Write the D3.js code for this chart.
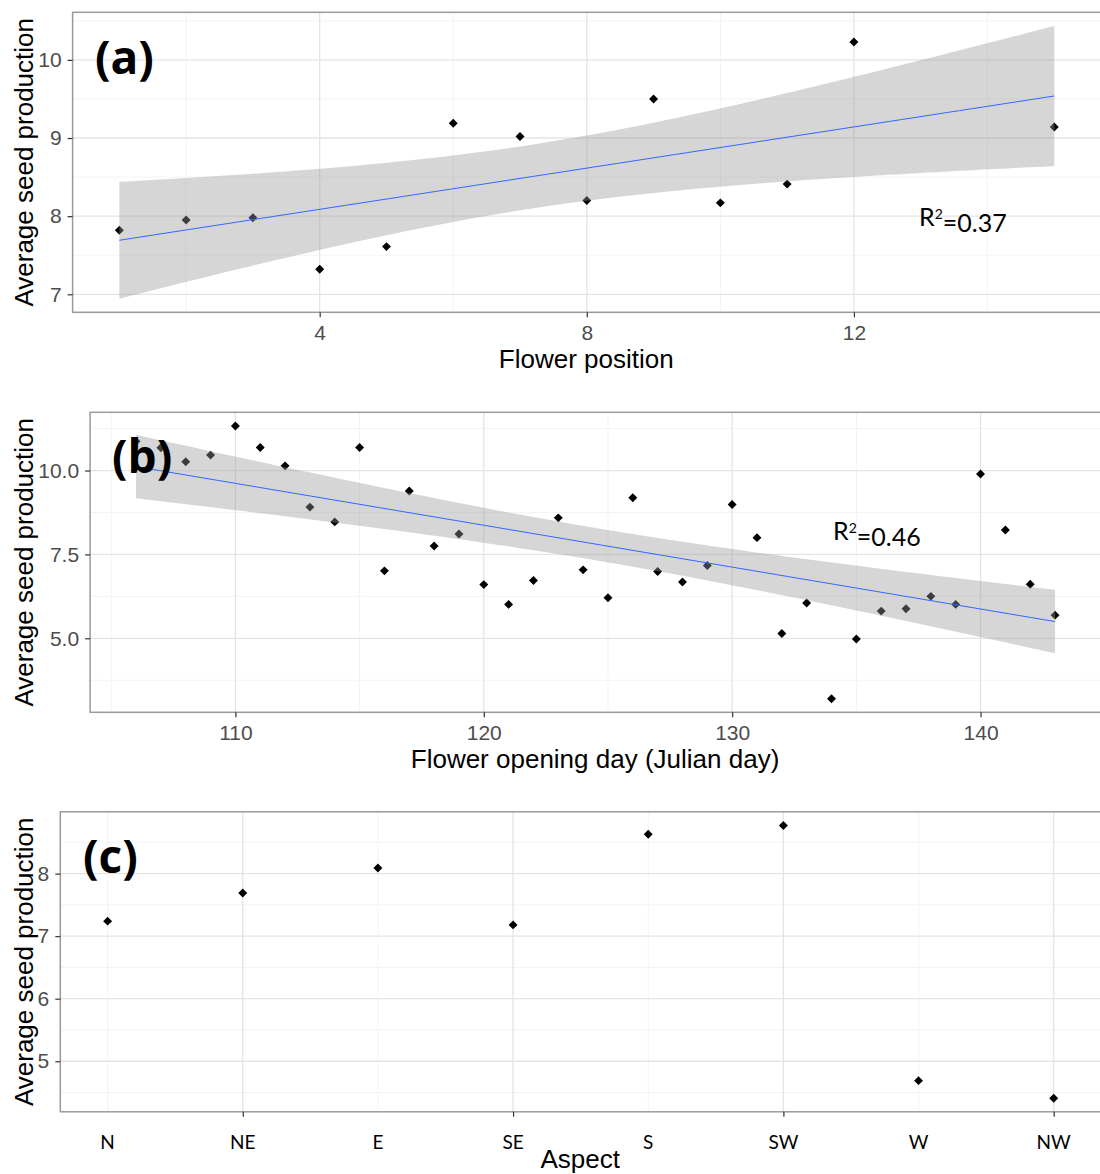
<!DOCTYPE html>
<html><head><meta charset="utf-8">
<script src="https://cdn.jsdelivr.net/npm/d3@7"></script>
<style>body{margin:0;background:#fff}svg{display:block}</style>
</head><body><svg id="chart" width="1100" height="1174"></svg>
<script>
// ---------- Panel (a): flower position ----------
const flowerPosition = [1, 2, 3, 4, 5, 6, 7, 8, 9, 10, 11, 12, 15];
const seedByPosition = [7.82, 7.95, 7.98, 7.32, 7.61, 9.19, 9.02, 8.20, 9.50, 8.17, 8.41, 10.23, 9.14];
const positionTicks = [4, 8, 12];
const seedTicksA = [7, 8, 9, 10];

// ---------- Panel (b): flower opening day ----------
const openingDay = [106, 107, 108, 109, 110, 111, 112, 113, 114, 115, 116, 117, 118, 119, 120, 121, 122, 123, 124,
                    125, 126, 127, 128, 129, 130, 131, 132, 133, 134, 135, 136, 137, 138, 139, 140, 141, 142, 143];
const seedByDay = [10.87, 10.68, 10.26, 10.46, 11.33, 10.69, 10.14, 8.91, 8.47, 10.69, 7.01, 9.39, 7.75, 8.11, 6.60,
                   6.01, 6.72, 8.59, 7.04, 6.21, 9.19, 6.99, 6.68, 7.17, 8.99, 8.00, 5.14, 6.05, 3.20, 4.98, 5.81,
                   5.88, 6.25, 6.01, 9.90, 8.23, 6.61, 5.69];
const dayTicks = [110, 120, 130, 140];
const seedTicksB = [5.0, 7.5, 10.0];

// ---------- Panel (c): aspect ----------
const aspects = ["N", "NE", "E", "SE", "S", "SW", "W", "NW"];
const aspectIndex = [1, 2, 3, 4, 5, 6, 7, 8];
const seedByAspect = [7.24, 7.69, 8.09, 7.18, 8.63, 8.77, 4.69, 4.41];
const aspectTicks = [2, 4, 6, 8];
const seedTicksC = [5, 6, 7, 8];

const panelTags = ["(a)", "(b)", "(c)"];
const r2Values = ["0.37", "0.46"];
const xTitles = ["Flower position", "Flower opening day (Julian day)", "Aspect"];
const yTitle = "Average seed production";

// ---------- helpers ----------
const svg = d3.select("#chart");
const W = 1100;
const AX = "'Liberation Sans', Arial, Helvetica, sans-serif";
const CAL = "Lato, 'Open Sans', sans-serif";
const TAG = "'Open Sans', Lato, sans-serif";

function tQuantile975(df) {
  const z = 1.959964, z3 = z ** 3, z5 = z ** 5, z7 = z ** 7, v = df;
  return z + (z3 + z) / (4 * v) + (5 * z5 + 16 * z3 + 3 * z) / (96 * v * v)
    + (3 * z7 + 19 * z5 + 17 * z3 - 15 * z) / (384 * v ** 3);
}

function linearFit(xs, ys) {
  const n = xs.length, mx = d3.mean(xs), my = d3.mean(ys);
  let sxx = 0, sxy = 0;
  xs.forEach((x, i) => { sxx += (x - mx) ** 2; sxy += (x - mx) * (ys[i] - my); });
  const b = sxy / sxx, a = my - b * mx;
  let sse = 0;
  xs.forEach((x, i) => { sse += (ys[i] - a - b * x) ** 2; });
  const s = Math.sqrt(sse / (n - 2)), t = tQuantile975(n - 2);
  const [x0, x1] = d3.extent(xs);
  const grid = d3.range(80).map(k => x0 + (x1 - x0) * k / 79);
  return grid.map(x => {
    const y = a + b * x;
    const se = s * Math.sqrt(1 / n + (x - mx) ** 2 / sxx);
    return { x, y, lo: y - t * se, hi: y + t * se };
  });
}

function expand(ext) { const d = ext[1] - ext[0]; return [ext[0] - 0.05 * d, ext[1] + 0.05 * d]; }

function minorOf(ticks, domain) {
  const step = ticks[1] - ticks[0];
  const cand = [ticks[0] - step / 2, ...ticks.map(t => t + step / 2)];
  return cand.filter(v => v > domain[0] && v < domain[1]);
}

const diamond = {
  draw(ctx, size) {
    const r = Math.sqrt(size / 2);
    ctx.moveTo(0, -r); ctx.lineTo(r, 0); ctx.lineTo(0, r); ctx.lineTo(-r, 0); ctx.closePath();
  }
};

function drawPanel(cfg) {
  const { top, left, xs, ys, xTicks, yTicks, yFmt, fit, showXLabels, idx } = cfg;
  const bottom = top + 300, right = W + 1;
  const fitData = fit ? linearFit(xs, ys) : null;
  const xDom = expand(d3.extent(xs));
  const yAll = ys.slice();
  if (fitData) fitData.forEach(d => yAll.push(d.lo, d.hi));
  const yDom = expand(d3.extent(yAll));
  const x = d3.scaleLinear().domain(xDom).range([left, right]);
  const y = d3.scaleLinear().domain(yDom).range([bottom, top]);
  const g = svg.append("g");

  // minor grid
  const gm = g.append("g").attr("stroke", "#F2F2F2").attr("stroke-width", 0.9);
  minorOf(xTicks, xDom).forEach(v => gm.append("line").attr("x1", x(v)).attr("x2", x(v)).attr("y1", top).attr("y2", bottom));
  minorOf(yTicks, yDom).forEach(v => gm.append("line").attr("x1", left).attr("x2", right).attr("y1", y(v)).attr("y2", y(v)));
  // major grid
  const gM = g.append("g").attr("stroke", "#E4E4E4").attr("stroke-width", 1.3);
  xTicks.forEach(v => gM.append("line").attr("x1", x(v)).attr("x2", x(v)).attr("y1", top).attr("y2", bottom));
  yTicks.forEach(v => gM.append("line").attr("x1", left).attr("x2", right).attr("y1", y(v)).attr("y2", y(v)));

  // points
  const sym = d3.symbol().type(diamond).size(40);
  g.append("g").selectAll("path").data(xs.map((v, i) => [v, ys[i]])).join("path")
    .attr("d", sym).attr("transform", d => `translate(${x(d[0])},${y(d[1])})`).attr("fill", "#000");

  if (fitData) {
    g.append("path").datum(fitData)
      .attr("d", d3.area().x(d => x(d.x)).y0(d => y(d.lo)).y1(d => y(d.hi)))
      .attr("fill", "#999999").attr("fill-opacity", 0.4);
    g.append("path").datum(fitData)
      .attr("d", d3.line().x(d => x(d.x)).y(d => y(d.y)))
      .attr("fill", "none").attr("stroke", "#3366FF").attr("stroke-width", 1);
  }

  // border
  g.append("rect").attr("x", left).attr("y", top).attr("width", right - left).attr("height", bottom - top)
    .attr("fill", "none").attr("stroke", "#9A9A9A").attr("stroke-width", 1.5);

  // axes
  const xAxis = d3.axisBottom(x).tickValues(xTicks).tickSize(5).tickPadding(showXLabels ? 8 : 0)
    .tickFormat(showXLabels ? d3.format("d") : () => "");
  const gx = g.append("g").attr("transform", `translate(0,${bottom})`).call(xAxis);
  const yAxis = d3.axisLeft(y).tickValues(yTicks).tickSize(5).tickPadding(6).tickFormat(yFmt);
  const gy = g.append("g").attr("transform", `translate(${left},0)`).call(yAxis);
  [gx, gy].forEach(a => {
    a.select(".domain").remove();
    a.selectAll(".tick line").attr("stroke", "#333").attr("stroke-width", 1.2);
    a.selectAll(".tick text").attr("fill", "#4D4D4D").style("font-family", AX).style("font-size", "21px");
  });
  gx.selectAll(".tick text").attr("dy", "0.71em");

  // titles
  svg.append("text").attr("x", (left + W) / 2).attr("y", bottom + 56).attr("text-anchor", "middle")
    .style("font-family", AX).style("font-size", "26px").attr("fill", "#000").text(xTitles[idx]);
  svg.append("text").attr("transform", `translate(33,${(top + bottom) / 2}) rotate(-90)`).attr("text-anchor", "middle")
    .style("font-family", AX).style("font-size", "26px").attr("fill", "#000").text(yTitle);

  return { x, y, g };
}

// Panel (a)
const pa = drawPanel({ top: 12.3, left: 72.6, xs: flowerPosition, ys: seedByPosition, xTicks: positionTicks,
  yTicks: seedTicksA, yFmt: d3.format("d"), fit: true, showXLabels: true, idx: 0 });
// Panel (b)
const pb = drawPanel({ top: 412.3, left: 90.1, xs: openingDay, ys: seedByDay, xTicks: dayTicks,
  yTicks: seedTicksB, yFmt: d3.format(".1f"), fit: true, showXLabels: true, idx: 1 });
// Panel (c)
const pc = drawPanel({ top: 811.8, left: 60.3, xs: aspectIndex, ys: seedByAspect, xTicks: aspectTicks,
  yTicks: seedTicksC, yFmt: d3.format("d"), fit: false, showXLabels: false, idx: 2 });

// aspect labels
svg.append("g").selectAll("text").data(aspects).join("text")
  .attr("x", (d, i) => pc.x(aspectIndex[i])).attr("y", 1149).attr("text-anchor", "middle")
  .style("font-family", CAL).style("font-size", "19px").attr("fill", "#000").text(d => d);

// panel tags
const tagPos = [[95, 74], [112, 472.5], [83, 872.5]];
panelTags.forEach((t, i) => {
  svg.append("text").attr("x", tagPos[i][0]).attr("y", tagPos[i][1])
    .style("font-family", TAG).style("font-weight", "bold").style("font-size", "46px").attr("fill", "#000").text(t);
});

// R^2 labels
const r2Pos = [[919, 226], [833, 540]];
r2Values.forEach((v, i) => {
  const t = svg.append("text").attr("x", r2Pos[i][0]).attr("y", r2Pos[i][1])
    .style("font-family", CAL).style("font-size", "25px").attr("fill", "#000");
  t.append("tspan").text("R");
  t.append("tspan").attr("dy", "-0.5em").style("font-size", "14px").text("2");
  t.append("tspan").attr("dy", "0.5em").text("=" + v);
});
</script></body></html>
